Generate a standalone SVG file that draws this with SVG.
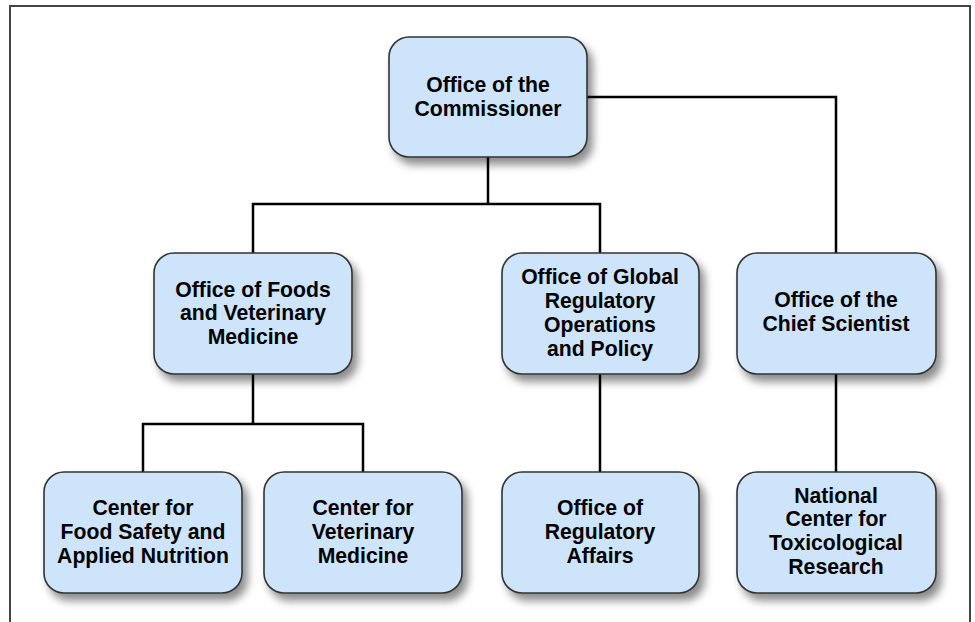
<svg xmlns="http://www.w3.org/2000/svg" width="975" height="622" viewBox="0 0 975 622">
  <defs>
    <filter id="shadow" x="-20%" y="-20%" width="150%" height="160%">
      <feDropShadow dx="5" dy="7" stdDeviation="4.5" flood-color="#000" flood-opacity="0.45"/>
    </filter>
  </defs>
  <style>
    .box { fill: #cde4fa; stroke: #333; stroke-width: 1.6; filter: url(#shadow); }
    .label { font-family: "Liberation Sans", Arial, sans-serif; font-weight: bold; font-size: 21.2px; fill: #000; text-anchor: middle; }
    .link { fill: none; stroke: #000; stroke-width: 2.5; }
    .frame { fill: none; stroke: #444; stroke-width: 2; }
  </style>

  <rect width="975" height="622" fill="#fff"/>
  <path class="frame" d="M10,622 V6 H970 V622"/>

  <g id="connectors">
    <path class="link" d="M488,157 V204 M253,253 V204 H600 V253"/>
    <path class="link" d="M587,97 H836 V253"/>
    <path class="link" d="M836,374 V472"/>
    <path class="link" d="M253,374 V424 M143,472 V424 H363 V472"/>
    <path class="link" d="M600,374 V472"/>
  </g>

  <g id="commissioner">
    <rect class="box" x="389" y="37" width="198" height="120" rx="20"/>
    <text class="label" x="488" y="92">Office of the</text>
    <text class="label" x="488" y="116">Commissioner</text>
  </g>

  <g id="foods-vet">
    <rect class="box" x="154" y="253" width="198" height="121" rx="20"/>
    <text class="label" x="253" y="297">Office of Foods</text>
    <text class="label" x="253" y="320">and Veterinary</text>
    <text class="label" x="253" y="344">Medicine</text>
  </g>

  <g id="global-regulatory">
    <rect class="box" x="502" y="253" width="197" height="121" rx="20"/>
    <text class="label" x="600" y="284">Office of Global</text>
    <text class="label" x="600" y="308">Regulatory</text>
    <text class="label" x="600" y="332">Operations</text>
    <text class="label" x="600" y="356">and Policy</text>
  </g>

  <g id="chief-scientist">
    <rect class="box" x="737" y="253" width="199" height="121" rx="20"/>
    <text class="label" x="836" y="307">Office of the</text>
    <text class="label" x="836" y="331">Chief Scientist</text>
  </g>

  <g id="cfsan">
    <rect class="box" x="44" y="472" width="198" height="121" rx="20"/>
    <text class="label" x="143" y="515">Center for</text>
    <text class="label" x="143" y="539">Food Safety and</text>
    <text class="label" x="143" y="563">Applied Nutrition</text>
  </g>

  <g id="cvm">
    <rect class="box" x="264" y="472" width="198" height="121" rx="20"/>
    <text class="label" x="363" y="515">Center for</text>
    <text class="label" x="363" y="539">Veterinary</text>
    <text class="label" x="363" y="563">Medicine</text>
  </g>

  <g id="ora">
    <rect class="box" x="502" y="472" width="197" height="121" rx="20"/>
    <text class="label" x="600" y="515">Office of</text>
    <text class="label" x="600" y="539">Regulatory</text>
    <text class="label" x="600" y="563">Affairs</text>
  </g>

  <g id="nctr">
    <rect class="box" x="737" y="472" width="199" height="121" rx="20"/>
    <text class="label" x="836" y="503">National</text>
    <text class="label" x="836" y="526">Center for</text>
    <text class="label" x="836" y="550">Toxicological</text>
    <text class="label" x="836" y="574">Research</text>
  </g>
</svg>
